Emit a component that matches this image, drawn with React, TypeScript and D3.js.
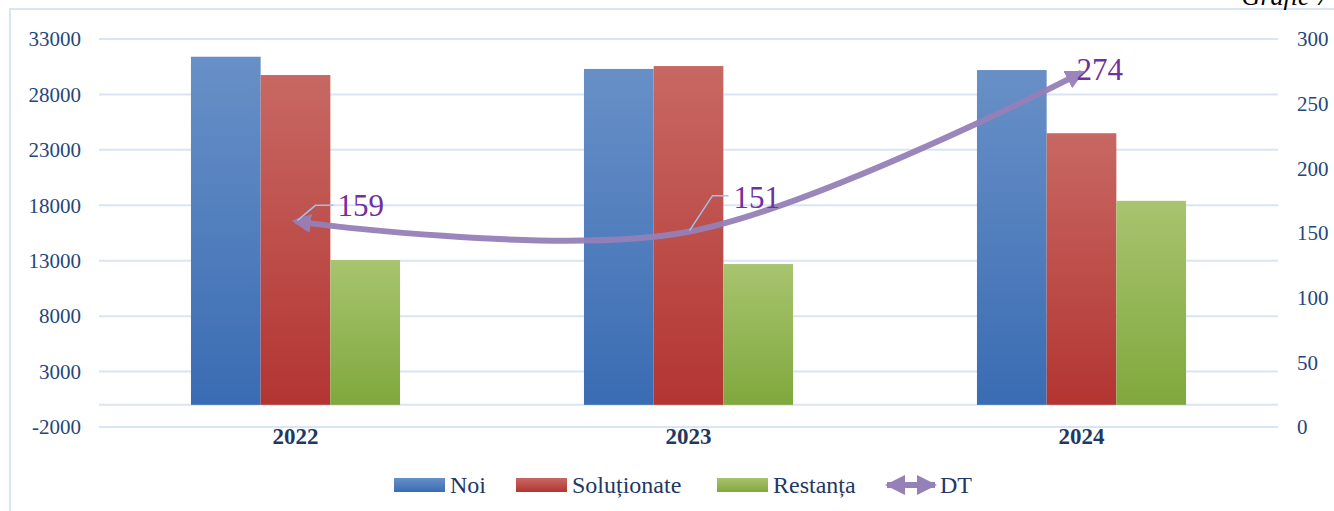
import React from "react";
import * as d3 from "d3";

const categories = ["2022", "2023", "2024"];
const seriesNames = ["Noi", "Soluționate", "Restanța"];
const noi = [31400, 30300, 30200];
const solutionate = [29750, 30560, 24500];
const restanta = [13060, 12700, 18400];
const dt = [159, 151, 274];
const leftTicks = [-2000, 3000, 8000, 13000, 18000, 23000, 28000, 33000];
const rightTicks = [0, 50, 100, 150, 200, 250, 300];

const W = 1334;
const H = 511;
const FONT = "'Liberation Serif', 'Times New Roman', serif";
const AXIS_COLOR = "#24477a";
const GRID = "#d9e5f4";

export default function App() {
  const x0 = d3.scaleBand<string>().domain(categories).range([99, 1278]).padding(0);
  const groupW = x0.bandwidth() * 0.532;
  const x1 = d3.scaleBand<string>().domain(seriesNames).range([0, groupW]).padding(0);
  const yL = d3.scaleLinear().domain([-2000, 33000]).range([427, 39]);
  const yR = d3.scaleLinear().domain([0, 300]).range([427, 39]);

  const seriesValues = [noi, solutionate, restanta];
  const grads = ["gBlue", "gRed", "gGreen"];

  const pts: [number, number][] = categories.map((c, i) => [x0(c)! + x0.bandwidth() / 2, yR(dt[i])]);
  const lineGen = d3.line().curve(d3.curveCardinal.tension(0));
  const linePath = lineGen(pts) || "";

  const labelLayout = [
    { lead: [[2, -1], [20, -16], [38, -16]], tx: 42, ty: -16 },
    { lead: [[1, -1], [24, -36], [40, -36]], tx: 45, ty: -35 },
    { lead: null, tx: -5, ty: -3 },
  ];

  const legendItems = [
    { name: "Noi", fill: "url(#gBlue)", x: 394 },
    { name: "Soluționate", fill: "url(#gRed)", x: 516 },
    { name: "Restanța", fill: "url(#gGreen)", x: 717 },
  ];
  const legY = 485;

  return (
    <svg width={W} height={H} style={{ position: "absolute", left: 0, top: 0, background: "#fff" }} fontFamily={FONT}>
      <defs>
        <linearGradient id="gBlue" x1="0" y1="0" x2="0" y2="1">
          <stop offset="0" stopColor="#6890c7" />
          <stop offset="1" stopColor="#3a6cb3" />
        </linearGradient>
        <linearGradient id="gRed" x1="0" y1="0" x2="0" y2="1">
          <stop offset="0" stopColor="#c86863" />
          <stop offset="1" stopColor="#b33532" />
        </linearGradient>
        <linearGradient id="gGreen" x1="0" y1="0" x2="0" y2="1">
          <stop offset="0" stopColor="#a8c46f" />
          <stop offset="1" stopColor="#80a83d" />
        </linearGradient>
        <marker id="arrowHead" viewBox="0 0 10 10" refX="8" refY="5" markerWidth="3.2" markerHeight="3.2" orient="auto-start-reverse" markerUnits="strokeWidth">
          <path d="M0,0 L10,5 L0,10 z" fill="#9580b8" />
        </marker>
        <marker id="arrowHeadLeg" viewBox="0 0 10 10" refX="9" refY="5" markerWidth="3.4" markerHeight="3.4" orient="auto-start-reverse" markerUnits="strokeWidth">
          <path d="M0,0 L10,5 L0,10 z" fill="#9580b8" />
        </marker>
      </defs>

      <rect x={10} y={9} width={W + 20} height={H + 20} fill="none" stroke={GRID} strokeWidth={2} />
      <text x={1329} y={5} textAnchor="end" fontSize={26} fontStyle="italic" fill="#000">Grafic 7</text>

      {leftTicks.map((t) => (
        <g key={"gl" + t}>
          <line x1={99} x2={1278} y1={yL(t)} y2={yL(t)} stroke={GRID} strokeWidth={2} />
          <text x={81} y={yL(t)} dy="0.35em" textAnchor="end" fontSize={21} fill={AXIS_COLOR}>{t}</text>
        </g>
      ))}
      <line x1={99} x2={1278} y1={yL(0)} y2={yL(0)} stroke={GRID} strokeWidth={2} />
      {rightTicks.map((t) => (
        <text key={"r" + t} x={1297} y={yR(t)} dy="0.35em" textAnchor="start" fontSize={21} fill={AXIS_COLOR}>{t}</text>
      ))}

      {categories.map((c, ci) => (
        <g key={c} transform={`translate(${x0(c)! + (x0.bandwidth() - groupW) / 2},0)`}>
          {seriesNames.map((s, si) => {
            const v = seriesValues[si][ci];
            return (
              <rect key={s} x={x1(s)!} width={x1.bandwidth()} y={yL(v)} height={yL(0) - yL(v)} fill={`url(#${grads[si]})`} />
            );
          })}
        </g>
      ))}

      {categories.map((c) => (
        <text key={"c" + c} x={x0(c)! + x0.bandwidth() / 2} y={444} textAnchor="middle" fontSize={23} fontWeight="bold" fill="#1f3864">{c}</text>
      ))}

      <path d={linePath} fill="none" stroke="#9580b8" strokeWidth={6} opacity={0.95} markerStart="url(#arrowHead)" markerEnd="url(#arrowHead)" />

      {pts.map((p, i) => {
        const L = labelLayout[i];
        return (
          <g key={"lab" + i}>
            {L.lead && (
              <polyline points={L.lead.map((q) => `${p[0] + q[0]},${p[1] + q[1]}`).join(" ")} fill="none" stroke="#9dc3e6" strokeWidth={1.5} />
            )}
            <text x={p[0] + L.tx} y={p[1] + L.ty} dy="0.35em" fontSize={31} fill="#7030a0">{dt[i]}</text>
          </g>
        );
      })}

      {legendItems.map((it) => (
        <g key={it.name}>
          <rect x={it.x} y={legY - 7} width={51} height={14} fill={it.fill} />
          <text x={it.x + 56} y={legY} dy="0.35em" fontSize={24} fill="#1f3864">{it.name}</text>
        </g>
      ))}
      <line x1={887} x2={935} y1={legY} y2={legY} stroke="#9580b8" strokeWidth={6} markerStart="url(#arrowHeadLeg)" markerEnd="url(#arrowHeadLeg)" />
      <text x={940} y={legY} dy="0.35em" fontSize={24} fill="#1f3864">DT</text>
    </svg>
  );
}
